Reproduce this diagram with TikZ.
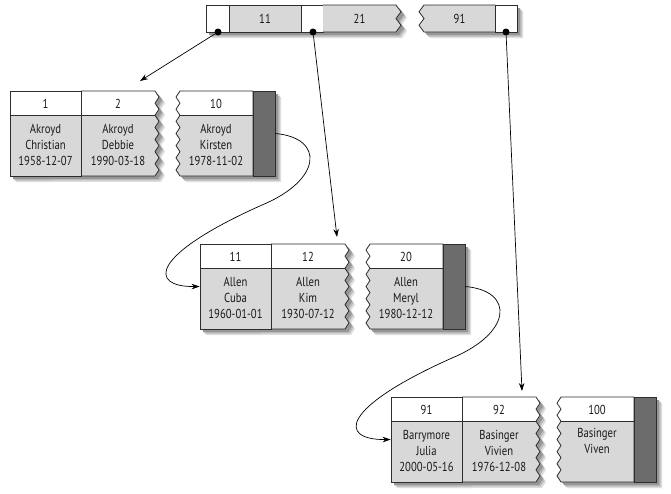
\documentclass[tikz,border=0pt]{standalone}
\usepackage{fontspec}
\setmainfont[FakeStretch=0.82]{PT Sans}
\usetikzlibrary{arrows.meta}
\definecolor{cellgray}{RGB}{216,216,216}
\definecolor{darkfill}{RGB}{108,108,108}
\definecolor{edgecol}{RGB}{45,45,45}
\definecolor{txt}{RGB}{25,25,25}
\definecolor{shadeA}{RGB}{222,222,222}
\definecolor{shadeB}{RGB}{186,186,186}
\definecolor{shadeC}{RGB}{150,150,150}
\tikzset{
  edge/.style={draw=edgecol, line width=0.8pt},
  lbl/.style={text=txt, font=\fontsize{13}{16}\selectfont, align=center, inner sep=0pt},
  cellframe/.style={draw=edgecol, line width=0.8pt, inner sep=0pt, minimum width=71pt, minimum height=85pt},
  darkbox/.style={draw=edgecol, line width=0.8pt, fill=darkfill, inner sep=0pt, minimum width=22pt, minimum height=85pt},
  dotnode/.style={circle, fill=black, inner sep=0pt, minimum size=7pt},
  ptr/.style={-{Stealth[length=8pt,width=5.5pt]}, line width=0.7pt, black},
}
\newcommand\leafoutline[1]{%
  \fill[#1] (0,0) -- (145,0) \foreach \k in {1,...,7}{ -- ++(4,6.07) -- ++(-4,6.07)} -- (0,85) -- cycle;
  \fill[#1] (170,0) -- (265,0) -- (265,85) -- (170,85) \foreach \k in {1,...,7}{ -- ++(-4,-6.07) -- ++(4,-6.07)} -- cycle;}
\newcommand\leafbox[9]{%
  \begin{scope}[shift={(#2,#3)}]
    \begin{scope}[shift={(6,6)}]\leafoutline{shadeA}\end{scope}
    \begin{scope}[shift={(4.5,4.5)}]\leafoutline{shadeB}\end{scope}
    \begin{scope}[shift={(3,3)}]\leafoutline{shadeC}\end{scope}
    \leafoutline{cellgray}
    \begin{scope}\clip (-1,-1) rectangle (300,24);\leafoutline{white}\end{scope}
    \node[cellframe] (#1a) at (35.5,42.5) {};
    \draw[edge] (71,0) -- (145,0) \foreach \k in {1,...,7}{ -- ++(4,6.07) -- ++(-4,6.07)} -- (71,85);
    \draw[edge] (0,24) -- (145,24);
    \draw[edge] (243,0) -- (170,0) (243,0) -- (243,85) -- (170,85) \foreach \k in {1,...,7}{ -- ++(-4,-6.07) -- ++(4,-6.07)} -- (243,0);
    \draw[edge] (170,24) -- (243,24);
    \node[darkbox] (#1d) at (254,42.5) {};
    \node[lbl] (#1n1) at (35.5,12.5) {#4};
    \node[lbl] (#1n2) at (108,12.5) {#5};
    \node[lbl] (#1n3) at (206,12.5) {#6};
    \node[lbl] (#1b1) at (35.5,54) {#7};
    \node[lbl] (#1b2) at (108,54) {#8};
    \node[lbl] (#1b3) at (206,54) {#9};
  \end{scope}}
\begin{document}
\begin{tikzpicture}[x=1pt,y=-1pt]
\useasboundingbox (0,0) rectangle (671,493);
\fill[white] (0,0) rectangle (671,493);
% ---- top (root) node ----
\foreach \s/\c in {6/shadeA,4.5/shadeB,3/shadeC}{
  \begin{scope}[shift={(\s,\s)}]
    \fill[\c] (206,5) -- (396,5) -- ++(5,6.75) -- ++(-5,6.75) -- ++(5,6.75) -- ++(-5,6.75) -- (206,32) -- cycle;
    \fill[\c] (424,5) -- (517,5) -- (517,32) -- (424,32) -- ++(-5,-6.75) -- ++(5,-6.75) -- ++(-5,-6.75) -- ++(5,-6.75) -- cycle;
  \end{scope}}
\filldraw[edge, fill=white] (206,5) rectangle (229,32);
\filldraw[edge, fill=cellgray] (229,5) rectangle (301,32);
\filldraw[edge, fill=white] (301,5) rectangle (323,32);
\fill[cellgray] (323,5) -- (396,5) -- ++(5,6.75) -- ++(-5,6.75) -- ++(5,6.75) -- ++(-5,6.75) -- (323,32) -- cycle;
\draw[edge] (323,5) -- (396,5) -- ++(5,6.75) -- ++(-5,6.75) -- ++(5,6.75) -- ++(-5,6.75) -- (323,32);
\fill[cellgray] (424,5) -- (495,5) -- (495,32) -- (424,32) -- ++(-5,-6.75) -- ++(5,-6.75) -- ++(-5,-6.75) -- ++(5,-6.75) -- cycle;
\draw[edge] (495,5) -- (424,5) -- ++(-5,6.75) -- ++(5,6.75) -- ++(-5,6.75) -- ++(5,6.75) -- (495,32);
\filldraw[edge, fill=white] (495,5) rectangle (517,32);
\node[lbl] (k11) at (265,18.5) {11};
\node[lbl] (k21) at (359.5,18.5) {21};
\node[lbl] (k91) at (459.5,18.5) {91};
\node[dotnode] (p1) at (218,32) {};
\node[dotnode] (p2) at (313,32) {};
\node[dotnode] (p3) at (506,32) {};
% ---- leaves ----
\leafbox{la}{10}{91}{1}{2}{10}{Akroyd\\Christian\\1958-12-07}{Akroyd\\Debbie\\1990-03-18}{Akroyd\\Kirsten\\1978-11-02}
\leafbox{lb}{200}{244}{11}{12}{20}{Allen\\Cuba\\1960-01-01}{Allen\\Kim\\1930-07-12}{Allen\\Meryl\\1980-12-12}
\leafbox{lc}{391}{397}{91}{92}{100}{Barrymore\\Julia\\2000-05-16}{Basinger\\Vivien\\1976-12-08}{Basinger\\Viven\\\strut}
% ---- connectors ----
\coordinate (t1) at (140,81);
\coordinate (t2) at (337,237);
\coordinate (t3) at (522,391);
\draw[ptr] (p1) -- (t1);
\draw[ptr] (p2) -- (t2);
\draw[ptr] (p3) -- (t3);
\draw[ptr] (lad.east) .. controls (325,138) and (322,180) .. (262,205) .. controls (150,255) and (148,287) .. (lba.west);
\draw[ptr] (lbd.east) .. controls (515,291) and (512,333) .. (452,358) .. controls (340,408) and (338,440) .. (lca.west);
\end{tikzpicture}
\end{document}
